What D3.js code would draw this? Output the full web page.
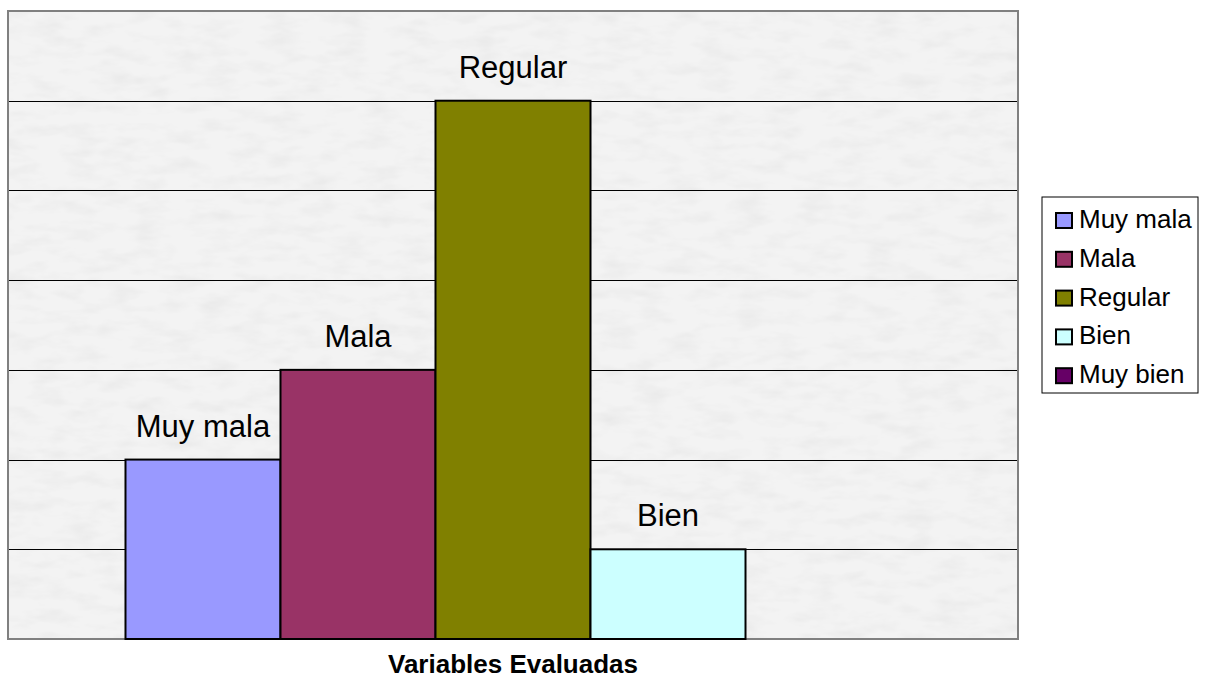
<!DOCTYPE html>
<html>
<head>
<meta charset="utf-8">
<script src="https://cdn.jsdelivr.net/npm/d3@7"></script>
<style>
  body { margin: 0; background: #fff; }
  text { font-family: "Liberation Sans", Arial, sans-serif; }
</style>
</head>
<body>
<div id="chart"></div>
<script>
// data
var categories = ["Muy mala", "Mala", "Regular", "Bien", "Muy bien"];
var values = [2, 3, 6, 1, 0];
var colors = ["#9999FF", "#993366", "#808000", "#CCFFFF", "#660066"];
var yMax = 7;
var xTitle = "Variables Evaluadas";

var width = 1207, height = 678;
// plot area
var plot = { left: 8, top: 11, right: 1018, bottom: 639 };

var svg = d3.select("#chart").append("svg")
  .attr("width", width)
  .attr("height", height);

// subtle paper texture for the plot background
var defs = svg.append("defs");
var filt = defs.append("filter").attr("id", "tex")
  .attr("x", 0).attr("y", 0).attr("width", 1).attr("height", 1);
filt.append("feTurbulence")
  .attr("type", "fractalNoise")
  .attr("baseFrequency", "0.03 0.08")
  .attr("numOctaves", 3)
  .attr("seed", 4);
filt.append("feColorMatrix")
  .attr("type", "matrix")
  .attr("values", "0 0 0 0 0  0 0 0 0 0  0 0 0 0 0  0 0 0 -0.07 0.04");
filt.append("feComposite").attr("in2", "SourceGraphic").attr("operator", "in");

var x = d3.scaleBand()
  .domain(categories)
  .range([plot.left, plot.right])
  .paddingInner(0)
  .paddingOuter(0.758);

var y = d3.scaleLinear()
  .domain([0, yMax])
  .range([plot.bottom, plot.top]);

// background
svg.append("rect")
  .attr("x", plot.left).attr("y", plot.top)
  .attr("width", plot.right - plot.left)
  .attr("height", plot.bottom - plot.top)
  .attr("fill", "#f3f3f3");
svg.append("rect")
  .attr("x", plot.left).attr("y", plot.top)
  .attr("width", plot.right - plot.left)
  .attr("height", plot.bottom - plot.top)
  .attr("fill", "#f3f3f3")
  .attr("filter", "url(#tex)");

// gridlines
svg.append("g")
  .selectAll("line")
  .data(d3.range(1, yMax))
  .enter().append("line")
    .attr("x1", plot.left).attr("x2", plot.right)
    .attr("y1", function(d) { return Math.round(y(d)) + 0.5; })
    .attr("y2", function(d) { return Math.round(y(d)) + 0.5; })
    .attr("stroke", "#000")
    .attr("stroke-width", 1);

// plot border
svg.append("rect")
  .attr("x", plot.left).attr("y", plot.top)
  .attr("width", plot.right - plot.left)
  .attr("height", plot.bottom - plot.top)
  .attr("fill", "none")
  .attr("stroke", "#808080")
  .attr("stroke-width", 2);

var bars = categories.map(function(c, i) {
  return { name: c, value: values[i], color: colors[i] };
}).filter(function(d) { return d.value > 0; });

// bars
svg.append("g")
  .selectAll("rect")
  .data(bars)
  .enter().append("rect")
    .attr("x", function(d) { return x(d.name); })
    .attr("y", function(d) { return y(d.value); })
    .attr("width", x.bandwidth())
    .attr("height", function(d) { return y(0) - y(d.value); })
    .attr("fill", function(d) { return d.color; })
    .attr("stroke", "#000")
    .attr("stroke-width", 2);

// data labels (category names)
svg.append("g")
  .selectAll("text")
  .data(bars)
  .enter().append("text")
    .attr("x", function(d) { return x(d.name) + x.bandwidth() / 2; })
    .attr("y", function(d) { return y(d.value) - 23; })
    .attr("text-anchor", "middle")
    .attr("font-size", 31)
    .attr("fill", "#000")
    .text(function(d) { return d.name; });

// axis title
svg.append("text")
  .attr("x", (plot.left + plot.right) / 2)
  .attr("y", 673)
  .attr("text-anchor", "middle")
  .attr("font-size", 26)
  .attr("font-weight", "bold")
  .text(xTitle);

// legend
var legend = svg.append("g").attr("transform", "translate(1042,197)");
legend.append("rect")
  .attr("x", 0).attr("y", 0)
  .attr("width", 156).attr("height", 196)
  .attr("fill", "#fff")
  .attr("stroke", "#000")
  .attr("stroke-width", 1);
var items = legend.selectAll("g.item")
  .data(categories)
  .enter().append("g")
    .attr("class", "item")
    .attr("transform", function(d, i) { return "translate(0," + (31 + i * 38.8) + ")"; });
items.append("rect")
  .attr("x", 14).attr("y", -15)
  .attr("width", 16).attr("height", 15)
  .attr("fill", function(d, i) { return colors[i]; })
  .attr("stroke", "#000")
  .attr("stroke-width", 2);
items.append("text")
  .attr("x", 37).attr("y", 0)
  .attr("font-size", 26)
  .text(function(d) { return d; });
</script>
</body>
</html>
